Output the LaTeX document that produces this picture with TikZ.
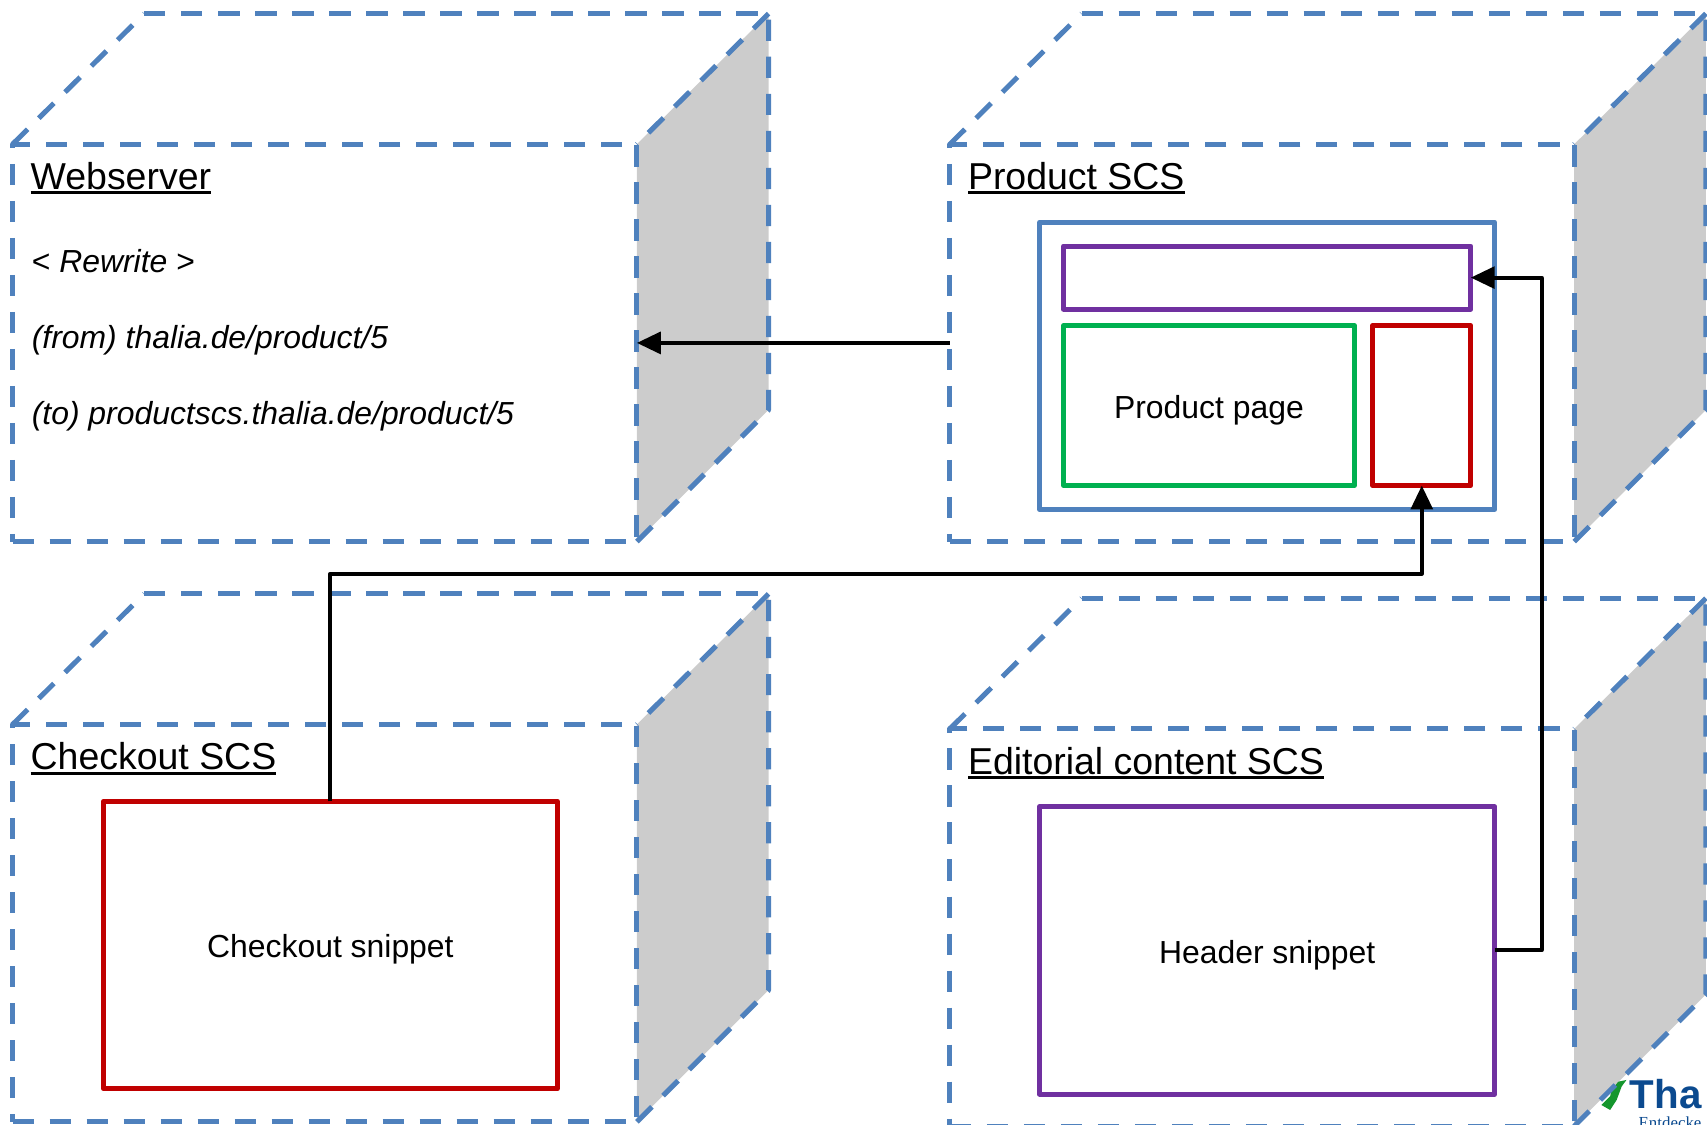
\documentclass[tikz,border=0pt]{standalone}
\usepackage{fontspec}
\setmainfont{Liberation Sans}
\newfontfamily\logoserif{Liberation Serif}
\usetikzlibrary{arrows.meta}
\definecolor{cubeblue}{HTML}{4F81BD}
\definecolor{sidegray}{HTML}{CCCCCC}
\definecolor{snipred}{HTML}{C00000}
\definecolor{snippurple}{HTML}{7030A0}
\definecolor{snipgreen}{HTML}{00B050}
\definecolor{logoblue}{HTML}{0B4A8F}
\definecolor{logogreen}{HTML}{14962D}
\newcommand\ulabel[1]{\setbox0\hbox{#1}\rlap{\rule[-4.6pt]{\wd0}{2.8pt}}\box0}
\newcommand\lowered[1]{\raisebox{-4pt}[\height][\depth]{#1}}
\tikzset{
  x=1pt,y=-1pt,
  cubeedge/.style={draw=cubeblue,line width=4.6pt,dash pattern=on 19.5pt off 14.5pt,line join=round},
  cubefront/.style={cubeedge,minimum width=573.5pt,minimum height=365pt,inner sep=0pt,outer sep=0pt,anchor=north west},
  sidefill/.style={fill=sidegray,draw=none},
  boxbase/.style={line width=4.6pt,fill=white,inner sep=0pt,outer sep=0pt,line join=round,align=center,font=\fontsize{29.3}{34}\selectfont},
  conn/.style={draw=black,line width=3.6pt,line join=round},
  head/.style={-{Triangle[length=22pt,width=20pt]}},
  title/.style={anchor=base west,inner sep=0pt,font=\fontsize{34.4}{40}\selectfont},
  rewrite/.style={anchor=base west,inner sep=0pt,font=\fontsize{29.3}{34}\selectfont\itshape},
}
\newcommand\cubeside[3]{% name, x, y of the front top-left corner
  \path[sidefill] (#2+573.5,#3) -- ++(121,-120) -- ++(0,364) -- (#2+573.5,#3+365) -- cycle;
}
\newcommand\cubeframe[3]{%
  \node[cubefront] (#1) at (#2,#3) {};
  \coordinate (#1bl) at ([shift={(121,-120)}]#1.north west);
  \coordinate (#1br) at ([shift={(121,-120)}]#1.north east);
  \draw[cubeedge] (#1.north west) -- (#1bl);
  \draw[cubeedge] (#1bl) -- (#1br);
  \draw[cubeedge] (#1br) -- (#1.north east);
  \draw[cubeedge] (#1.south east) -- ++(121,-121) -- (#1br);
}
\begin{document}
\begin{tikzpicture}
\useasboundingbox (0,0) rectangle (1568,1032.5);
\cubeside{web}{11.5}{132.5}
\cubeside{prod}{872.5}{132.5}
\cubeside{chk}{11.5}{665.5}
\cubeside{edit}{872.5}{669.5}
% partially cut-off logo
\path[fill=logogreen] (1471,1015) -- (1479,1019.6) -- (1485,1010.4) -- (1489.6,998) -- (1494,992) -- (1486.5,993.6) -- (1480.4,1001) -- (1479,1007) -- cycle;
\node[anchor=base west,inner sep=0pt,text=logoblue,font=\bfseries\fontsize{37}{40}\selectfont] (logo) at (1497,1018) {Tha};
\node[anchor=base west,inner sep=0pt,text=logoblue,font=\logoserif\fontsize{15.5}{18}\selectfont] (logotag) at (1505,1036.5) {Entdecke};
\cubeframe{web}{11.5}{132.5}
\cubeframe{prod}{872.5}{132.5}
\cubeframe{chk}{11.5}{665.5}
\cubeframe{edit}{872.5}{669.5}
\node[title] (tweb) at (28,174) {\ulabel{Webserver}};
\node[title] (tprod) at (889,174) {\ulabel{Product SCS}};
\node[title] (tchk) at (28,707) {\ulabel{Checkout SCS}};
\node[title] (tedit) at (889,711) {\ulabel{Editorial content SCS}};
\node[rewrite] (r1) at (29,250) {\textup{<} Rewrite \textup{>}};
\node[rewrite] (r2) at (29,320) {(from) thalia.de/product/5};
\node[rewrite] (r3) at (29,390) {(to) productscs.thalia.de/product/5};
\node[boxbase,draw=cubeblue,minimum width=418pt,minimum height=264pt] (page) at (1164,336) {};
\node[boxbase,draw=snippurple,minimum width=374pt,minimum height=58pt] (hdrslot) at (1164,255) {};
\node[boxbase,draw=snipgreen,minimum width=267pt,minimum height=147pt] (main) at (1110.5,372.5) {\lowered{Product page}};
\node[boxbase,draw=snipred,minimum width=90pt,minimum height=147pt] (chkslot) at (1306,372.5) {};
\node[boxbase,draw=snipred,minimum width=417pt,minimum height=264pt] (chksnip) at (303.5,868) {\lowered{Checkout snippet}};
\node[boxbase,draw=snippurple,minimum width=418pt,minimum height=264pt] (hdrsnip) at (1164,873) {\lowered{Header snippet}};
\draw[conn,head] (prod.west) -- (web.east);
\draw[conn,head] (chksnip.north) |- (1306,527) -- (chkslot.south);
\draw[conn,head] (hdrsnip.east) -- (1416,873) -- (1416,255) -- (hdrslot.east);
\end{tikzpicture}
\end{document}
